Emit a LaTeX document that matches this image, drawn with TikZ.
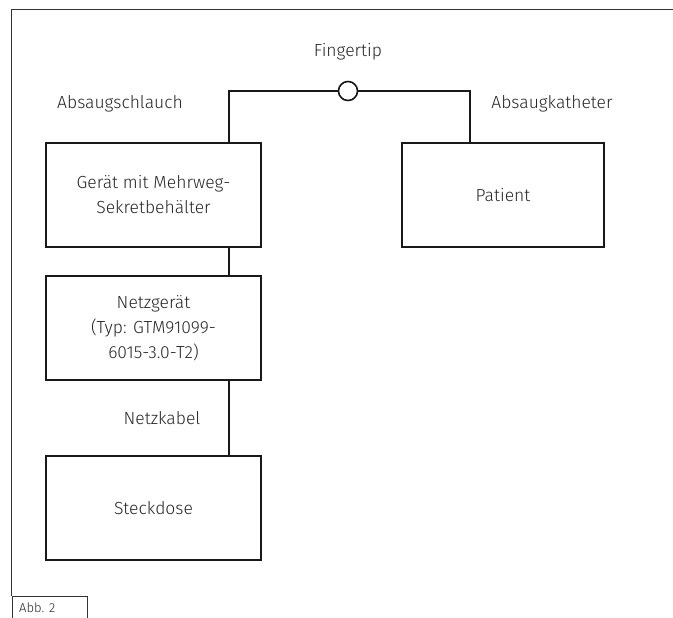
\documentclass[tikz,border=0pt]{standalone}
\usepackage{fontspec}
\setmainfont{Fira Sans}[UprightFont=* Light]
\begin{document}
\begin{tikzpicture}[x=1pt,y=-1pt,
  box/.style={draw=black!90,line width=1.6pt,minimum width=215pt,minimum height=104pt,align=center,font=\fontsize{17.5}{25}\selectfont,text=black!85,inner sep=0pt},
  conn/.style={draw=black!90,line width=1.6pt},
  lbl/.style={font=\fontsize{17.5}{25}\selectfont,text=black!85,inner sep=0pt},
  frame/.style={draw=black!80,line width=0.9pt}]
\useasboundingbox (0,0) rectangle (673,618);
\node[box] (geraet) at (153.5,195) {Gerät mit Mehrweg-\\Sekretbehälter};
\node[box] (netz) at (153.5,328) {Netzgerät\\(Typ: GTM91099-\\6015-3.0-T2)};
\node[box] (steck) at (153.5,508) {Steckdose};
\node[box,minimum width=202pt] (patient) at (503,195) {Patient};
\node[draw=black!90,line width=1.6pt,circle,minimum size=19pt,inner sep=0pt] (finger) at (348,91) {};
\coordinate (c1) at (229,91);
\coordinate (c2) at (470,91);
\draw[conn] (geraet.north -| c1) -- (c1) -- (finger.west);
\draw[conn] (finger.east) -- (c2) -- (patient.north -| c2);
\draw[conn] (geraet.south -| c1) -- (netz.north -| c1);
\draw[conn] (netz.south -| c1) -- (steck.north -| c1);
\node[lbl] (lfinger) at (348,52) {Fingertip};
\node[lbl] (lschlauch) at (120,104) {Absaugschlauch};
\node[lbl] (lkath) at (552,104) {Absaugkatheter};
\node[lbl] (lkabel) at (162,418) {Netzkabel};
\node[frame,anchor=south west,minimum width=75pt,minimum height=22pt,inner sep=0pt] (tab) at (11.5,618.5) {};
\node[font=\fontsize{13}{15}\selectfont,text=black!85,anchor=west,inner sep=0pt] (abb) at (19,608) {Abb. 2};
\draw[frame] (673,9) -- (11.5,9) -- (tab.north west);
\end{tikzpicture}
\end{document}
